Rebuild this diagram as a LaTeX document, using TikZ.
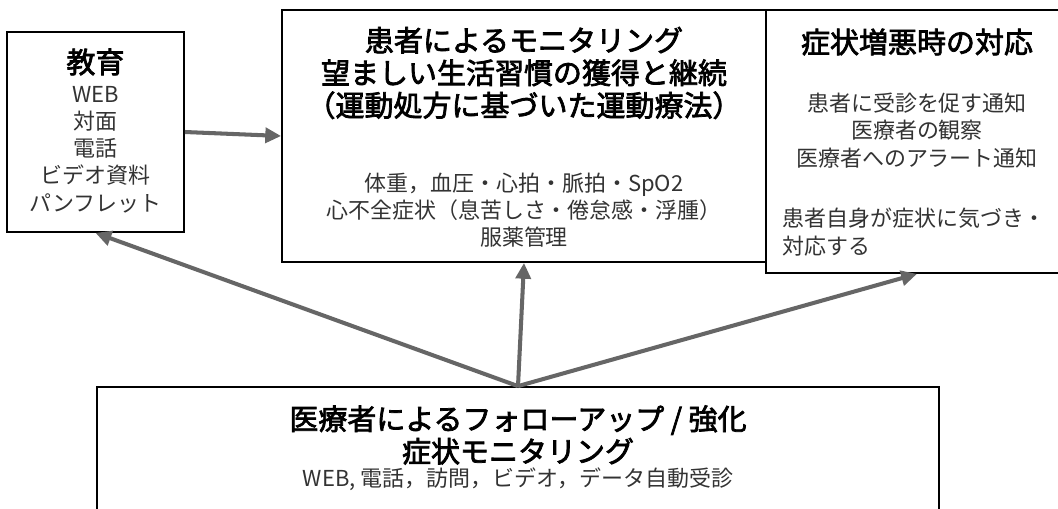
\documentclass[tikz,border=0pt]{standalone}
\usepackage{fontspec}
\setmainfont{Noto Sans CJK JP}
\newfontfamily\titlefont{Noto Sans CJK JP}[FakeBold=2.5]
\usetikzlibrary{arrows.meta}
\definecolor{arrowgray}{HTML}{666666}
\definecolor{bodygray}{HTML}{333333}

\begin{document}
\begin{tikzpicture}[x=0.2mm,y=-0.2mm,>={Triangle[length=9pt,width=8.5pt]},
    box/.style={draw=black,line width=1pt,fill=white},
    title/.style={font=\fontsize{16.5pt}{18.5pt}\titlefont,align=center,inner sep=0pt},
    body/.style={font=\fontsize{12.5pt}{15.5pt}\selectfont,text=bodygray,align=center,inner sep=0pt},
    arr/.style={->,draw=arrowgray,line width=2.3pt}]
                \useasboundingbox (0,0) rectangle (1058,509);
                \clip (0,0) rectangle (1058,509);

                \node[box,minimum width=35.4mm,minimum height=40mm] (edu) at (95.5,132) {};
                \node[box,minimum width=96.8mm,minimum height=50.4mm] (mon) at (524,136) {};
                \node[box,minimum width=60.4mm,minimum height=52.6mm] (act) at (917,141.5) {};
                \node[box,minimum width=168.4mm,minimum height=30.6mm] (fol) at (518,463.5) {};

                \node[title] (edutitle) at (95.5,62) {教育};
                \node[body] (edubody) at (95.5,149.5) {WEB\\対面\\電話\\ビデオ資料\\パンフレット};

                \node[title] (montitle) at (524,73) {患者によるモニタリング\\望ましい生活習慣の獲得と継続\\（運動処方に基づいた運動療法）};
                \node[body] (monbody) at (524,210) {体重，血圧・心拍・脈拍・SpO2\\心不全症状（息苦しさ・倦怠感・浮腫）\\服薬管理};

                \node[title] (acttitle) at (917,42) {症状増悪時の対応};
                \node[body] (actbody) at (917,130.5) {患者に受診を促す通知\\医療者の観察\\医療者へのアラート通知};
                \node[body,align=left,anchor=west] (actself) at (782,232) {患者自身が症状に気づき・\\対応する};

                \node[title] (foltitle) at (518,435) {医療者によるフォローアップ / 強化\\症状モニタリング};
                \node[body] (folbody) at (518,479) {WEB, 電話，訪問，ビデオ，データ自動受診};

                \draw[arr] (edu.east) -- (mon.west);
                \draw[arr] (fol.north) -- (edu.south);
                \draw[arr] (fol.north) -- (mon.south);
                \draw[arr] (fol.north) -- (act.south);
\end{tikzpicture}
\end{document}
